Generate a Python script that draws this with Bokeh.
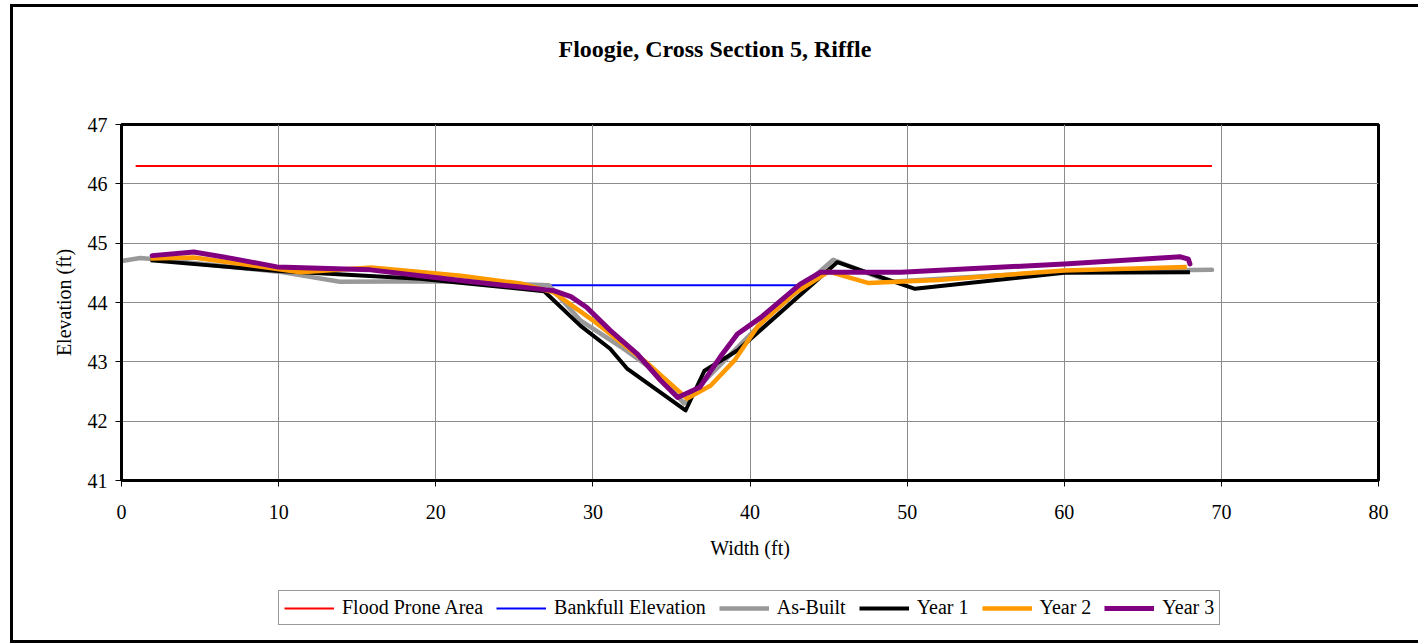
from bokeh.plotting import figure
from bokeh.layouts import column
from bokeh.models import Legend, LegendItem, Title, FixedTicker
from bokeh.embed import file_html
from bokeh.resources import INLINE

# ---- data ----
flood_x = [0.9, 69.4]
flood_y = [46.3, 46.3]
bank_x = [27.1, 43.2]
bank_y = [44.29, 44.29]

asbuilt_x = [0.0, 1.2, 2.5, 10.0, 13.9, 20.0, 27.2, 29.2, 31.8, 33.9, 35.8, 36.8, 41.1, 45.3, 48.9, 60.0, 69.4]
asbuilt_y = [44.70, 44.75, 44.72, 44.52, 44.35, 44.36, 44.29, 43.70, 43.25, 42.85, 42.30, 42.60, 43.75, 44.72, 44.35, 44.52, 44.55]

year1_x = [1.85, 10.0, 19.0, 26.9, 29.2, 31.1, 32.2, 35.9, 37.1, 39.2, 45.55, 50.5, 60.0, 68.0]
year1_y = [44.71, 44.53, 44.40, 44.19, 43.61, 43.22, 42.88, 42.18, 42.85, 43.19, 44.68, 44.23, 44.50, 44.51]

year2_x = [1.85, 4.6, 11.4, 15.9, 21.6, 25.4, 27.5, 30.0, 33.5, 36.0, 37.5, 39.0, 40.5, 42.8, 45.0, 47.5, 52.0, 60.0, 67.8]
year2_y = [44.74, 44.76, 44.51, 44.59, 44.45, 44.32, 44.17, 43.70, 42.97, 42.38, 42.60, 43.02, 43.60, 44.15, 44.52, 44.33, 44.38, 44.54, 44.60]

year3_x = [1.95, 4.6, 7.1, 9.9, 15.85, 19.0, 21.6, 25.4, 27.5, 28.6, 29.6, 31.1, 32.8, 34.3, 35.4, 36.8, 38.1, 39.2, 40.7, 43.2, 44.5, 46.4, 49.6, 60.0, 67.4, 67.9, 68.0]
year3_y = [44.79, 44.85, 44.74, 44.60, 44.55, 44.45, 44.37, 44.26, 44.20, 44.10, 43.92, 43.53, 43.14, 42.69, 42.40, 42.57, 43.08, 43.47, 43.75, 44.31, 44.51, 44.51, 44.51, 44.65, 44.77, 44.73, 44.65]

series_names = ["Flood Prone Area", "Bankfull Elevation", "As-Built", "Year 1", "Year 2", "Year 3"]
series_colors = ["#ff0000", "#0000ff", "#999999", "#000000", "#ff9900", "#800080"]
series_widths = [2, 2, 4.5, 4, 4.5, 5]

x_ticks = [0, 10, 20, 30, 40, 50, 60, 70, 80]
y_ticks = [41, 42, 43, 44, 45, 46, 47]

FONT = "Liberation Serif"

# ---------------- main chart ----------------
p = figure(width=1405, height=568, x_range=(0, 80), y_range=(41, 47),
           output_backend="svg", toolbar_location=None,
           min_border_left=108, min_border_right=40, min_border_top=117, min_border_bottom=95)

p.outline_line_color = "black"
p.outline_line_width = 3
p.outline_line_alpha = 1

for ax in (p.xaxis[0], p.yaxis[0]):
    ax.axis_line_width = 3
    ax.axis_line_color = "black"
    ax.major_tick_out = 6
    ax.major_tick_in = 0
    ax.major_tick_line_color = "black"
    ax.minor_tick_line_color = None
    ax.major_label_text_font = FONT
    ax.major_label_text_font_size = "20px"
    ax.major_label_text_color = "black"
    ax.axis_label_text_font = FONT
    ax.axis_label_text_font_size = "20px"
    ax.axis_label_text_font_style = "normal"
    ax.axis_label_text_color = "black"

p.xaxis.ticker = FixedTicker(ticks=x_ticks)
p.yaxis.ticker = FixedTicker(ticks=y_ticks)
p.xaxis.axis_label = "Width (ft)"
p.yaxis.axis_label = "Elevation (ft)"
p.xaxis.major_label_standoff = 18
p.yaxis.major_label_standoff = 8
p.xaxis.axis_label_standoff = 15
p.yaxis.axis_label_standoff = 10

p.xgrid.ticker = FixedTicker(ticks=x_ticks)
p.ygrid.ticker = FixedTicker(ticks=y_ticks)
p.grid.grid_line_color = "#8c8c8c"
p.grid.grid_line_width = 1

p.line(flood_x, flood_y, line_color=series_colors[0], line_width=series_widths[0])
p.line(bank_x, bank_y, line_color=series_colors[1], line_width=series_widths[1])
p.line(asbuilt_x, asbuilt_y, line_color=series_colors[2], line_width=series_widths[2], line_join="round", line_cap="round")
p.line(year1_x, year1_y, line_color=series_colors[3], line_width=series_widths[3], line_join="round")
p.line(year2_x, year2_y, line_color=series_colors[4], line_width=series_widths[4], line_join="round")
p.line(year3_x, year3_y, line_color=series_colors[5], line_width=series_widths[5], line_join="round", line_cap="round")

# spacer (closest to the frame) then the real title above it
spacer = Title(text=" ", text_font_size="1px", standoff=55)
p.add_layout(spacer, "above")
title = Title(text="Floogie, Cross Section 5, Riffle", align="left", offset=437,
              text_font=FONT, text_font_size="24px", text_font_style="bold",
              text_color="black")
p.add_layout(title, "above")

# ---------------- legend strip ----------------
pl = figure(width=1405, height=65, x_range=(0, 1), y_range=(0, 1),
            output_backend="svg", toolbar_location=None,
            x_axis_type=None, y_axis_type=None, min_border=0)
pl.outline_line_color = None
pl.grid.visible = False

items = []
for name, col, w in zip(series_names, series_colors, series_widths):
    # sample renderer kept outside the visible range: only its legend swatch shows
    r = pl.line([-3, -2], [-3, -2], line_color=col, line_width=w)
    items.append(LegendItem(label=name, renderers=[r]))

legend = Legend(items=items, orientation="horizontal", location=(157, 15))
legend.label_text_font = FONT
legend.label_text_font_size = "20px"
legend.label_text_color = "black"
legend.glyph_width = 50
legend.glyph_height = 20
legend.label_standoff = 8
legend.spacing = 13
legend.padding = 5
legend.margin = 0
legend.border_line_color = "#333333"
legend.border_line_width = 1
legend.background_fill_alpha = 1
pl.add_layout(legend, "center")

layout = column(p, pl, spacing=0,
                styles={"margin-left": "10px", "margin-top": "4px",
                        "border-left": "3px solid black", "border-top": "3px solid black",
                        "border-bottom": "3px solid black"})

open("out.html", "w").write(file_html(layout, INLINE))
